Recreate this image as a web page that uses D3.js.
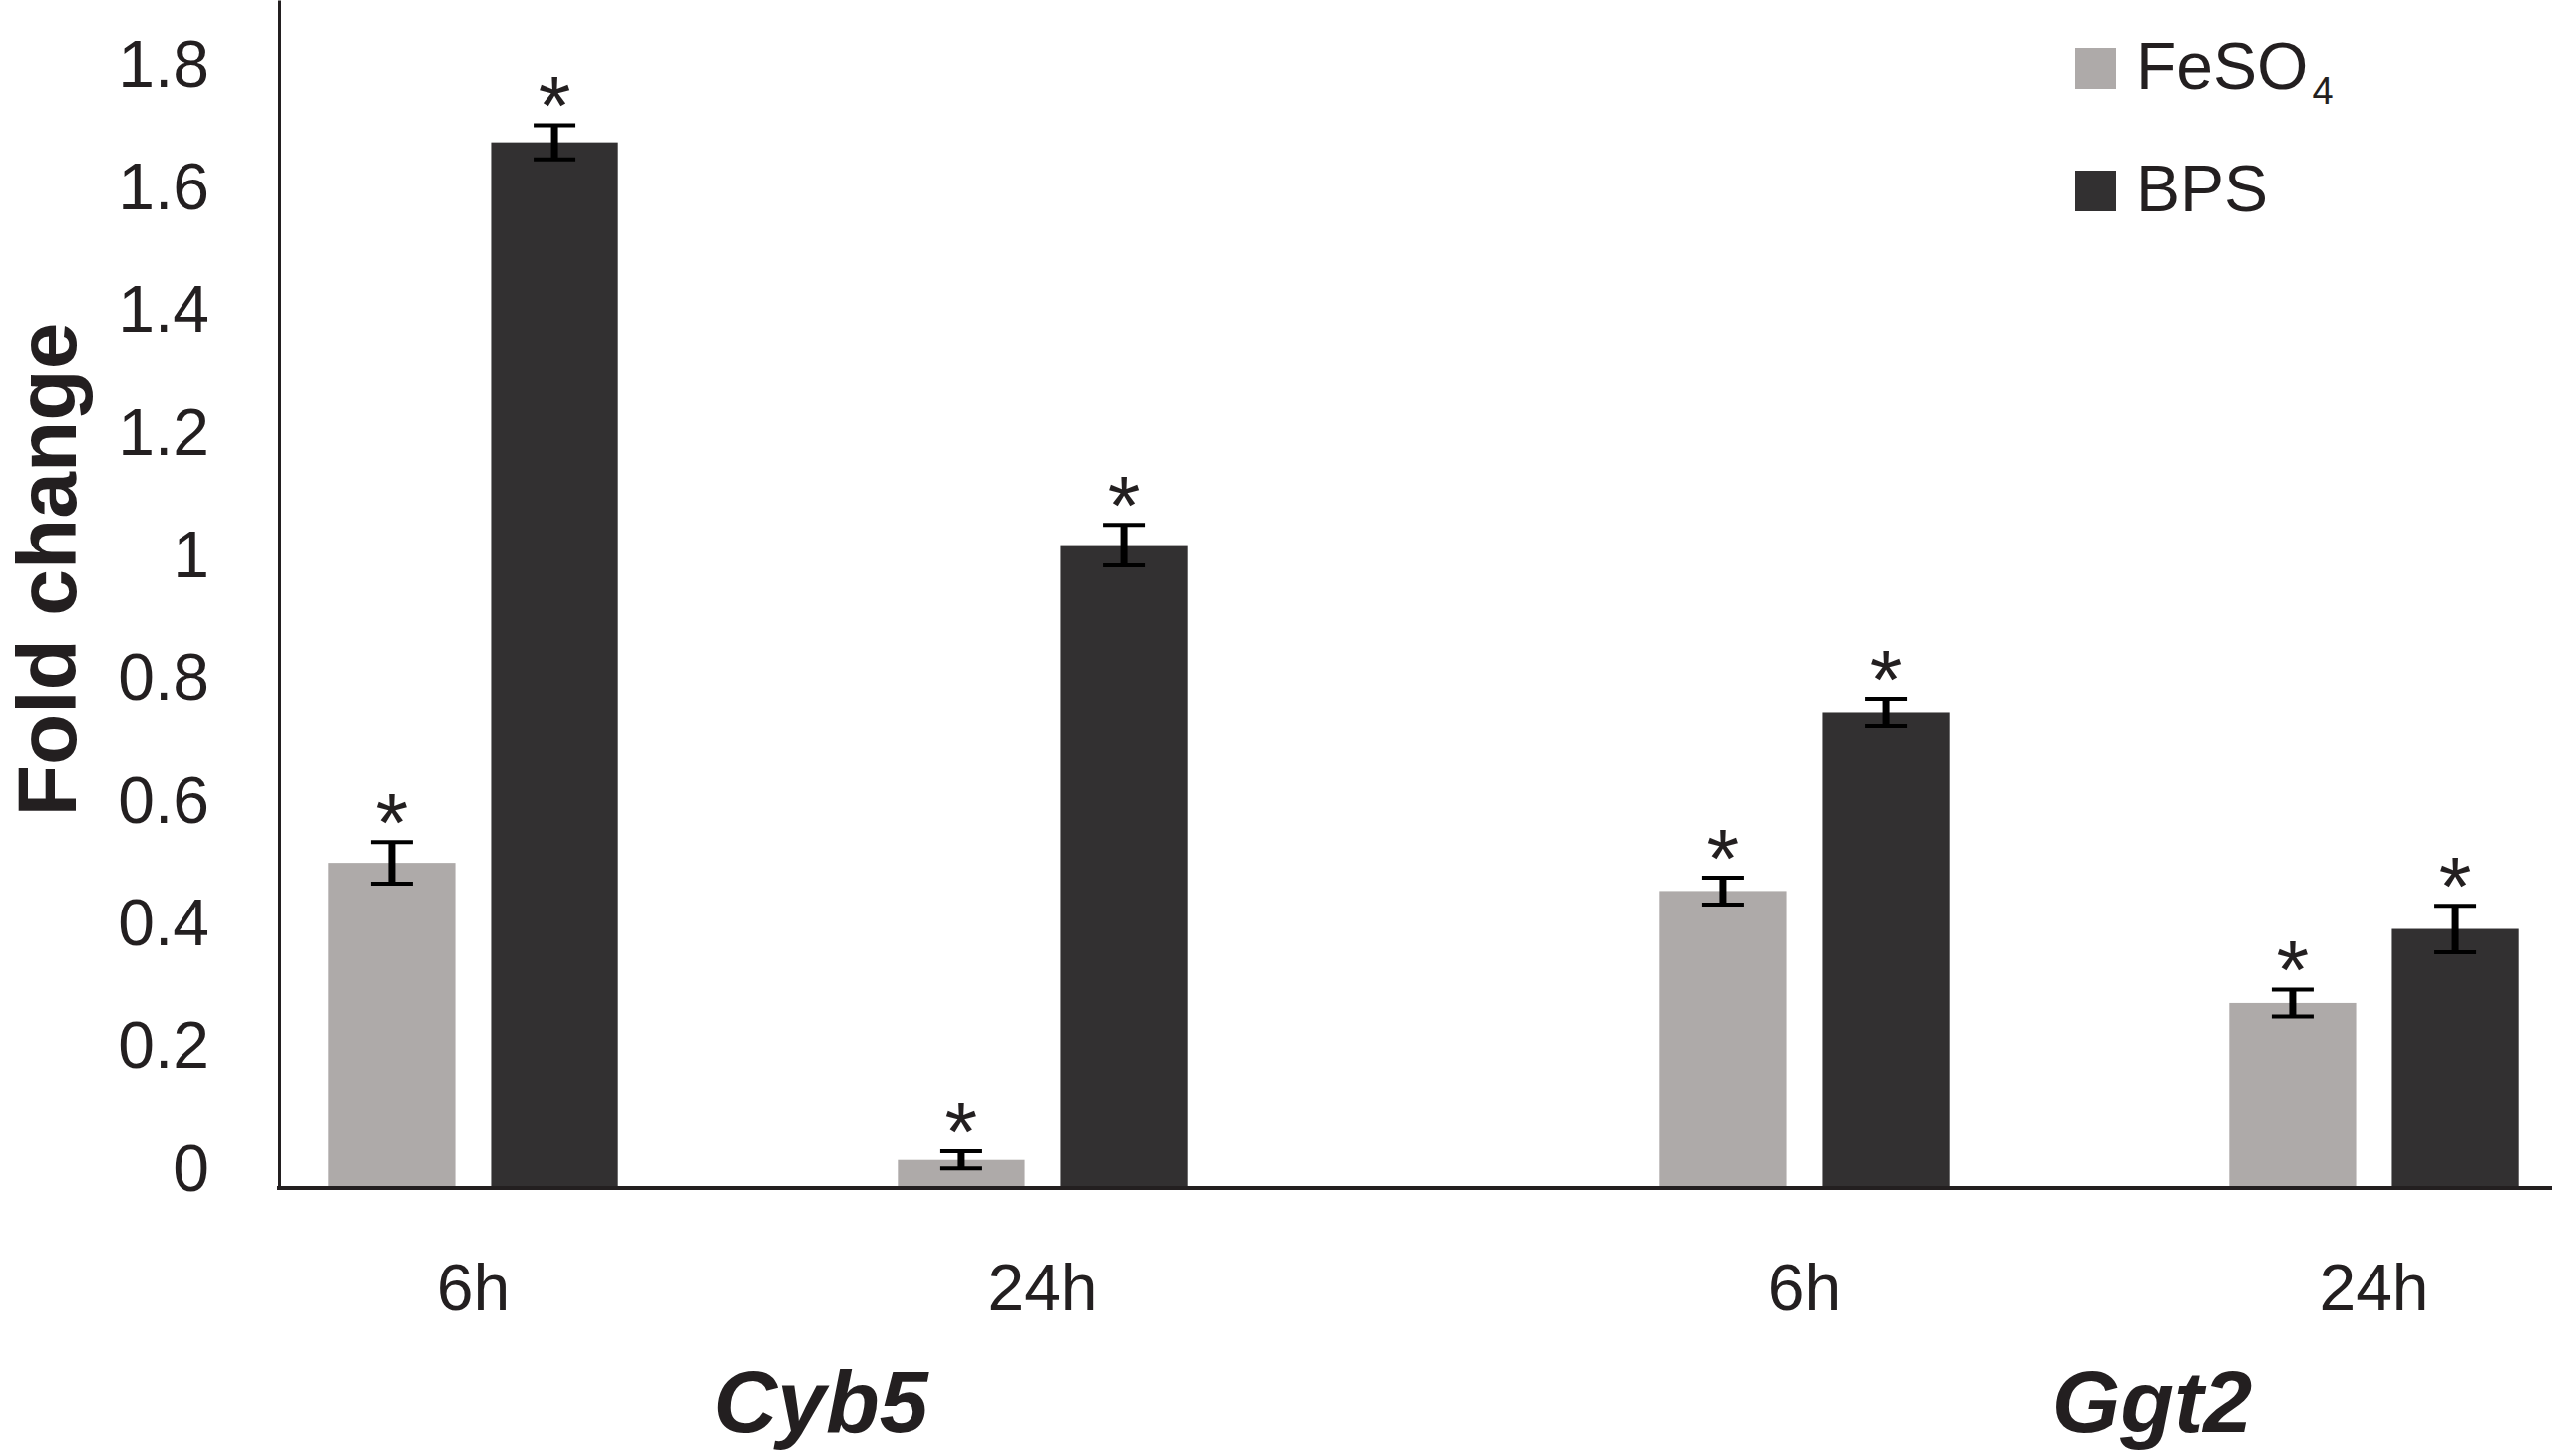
<!DOCTYPE html>
<html lang="en">
<head>
    <meta charset="UTF-8">
    <title>Fold change - Cyb5 / Ggt2</title>
    <script src="https://d3js.org/d3.v7.min.js"></script>
    <style>
        body { margin: 0; background: #fff; }
        svg { display: block; font-family: "Liberation Sans", Arial, sans-serif; }
    </style>
</head>
<body>

<div id="chart"></div>

<script>
// data (order: Cyb5 6h, Cyb5 24h, Ggt2 6h, Ggt2 24h)
const genes = ["Cyb5", "Ggt2"];
const times = ["6h", "24h"];
const seriesNames = ["FeSO4", "BPS"];
const feso4Values = [0.499, 0.015, 0.453, 0.270];
const feso4Errors = [0.034, 0.014, 0.022, 0.022];
const bpsValues = [1.674, 1.017, 0.744, 0.391];
const bpsErrors = [0.028, 0.033, 0.022, 0.038];
const yTicks = [0, 0.2, 0.4, 0.6, 0.8, 1, 1.2, 1.4, 1.6, 1.8];

const width = 2559;
const height = 1460;
const colors = { FeSO4: "#aeaaa9", BPS: "#323031" };
const ink = "#231f20";

// flatten into one row per bar
const rows = [];
genes.forEach((g, gi) => {
    times.forEach((t, ti) => {
        const i = gi * times.length + ti;
        rows.push({ gene: g, time: t, series: "FeSO4", value: feso4Values[i], err: feso4Errors[i] });
        rows.push({ gene: g, time: t, series: "BPS", value: bpsValues[i], err: bpsErrors[i] });
    });
});

const svg = d3.select("#chart")
    .append("svg")
    .attr("width", width)
    .attr("height", height);

// y: axis line sits a little below the zero label, as in the figure
const y = d3.scaleLinear()
    .domain([-0.031, 1.906])
    .range([1191, 0]);

const xGene = d3.scalePoint().domain(genes).range([760, 2095]);
const xTime = d3.scaleBand().domain(times).range([-571, 571]);
const xSeries = d3.scaleBand()
    .domain(seriesNames)
    .range([0, xTime.bandwidth()])
    .paddingInner(0.22)
    .paddingOuter(0.86);

const barX = d => xGene(d.gene) + xTime(d.time) + xSeries(d.series);
const barMid = d => barX(d) + xSeries.bandwidth() / 2;

// bars
svg.append("g")
    .selectAll("rect")
    .data(rows)
    .join("rect")
    .attr("x", barX)
    .attr("y", d => y(d.value))
    .attr("width", xSeries.bandwidth())
    .attr("height", d => y.range()[0] - y(d.value))
    .attr("fill", d => colors[d.series]);

// error bars
const capHalf = 21;
const err = svg.append("g").attr("stroke", "#000");
err.selectAll("line.stem")
    .data(rows)
    .join("line")
    .attr("class", "stem")
    .attr("x1", barMid).attr("x2", barMid)
    .attr("y1", d => y(d.value - d.err))
    .attr("y2", d => y(d.value + d.err))
    .attr("stroke-width", 7);
err.selectAll("line.capTop")
    .data(rows)
    .join("line")
    .attr("class", "capTop")
    .attr("x1", d => barMid(d) - capHalf).attr("x2", d => barMid(d) + capHalf)
    .attr("y1", d => y(d.value + d.err)).attr("y2", d => y(d.value + d.err))
    .attr("stroke-width", 4);
err.selectAll("line.capBot")
    .data(rows)
    .join("line")
    .attr("class", "capBot")
    .attr("x1", d => barMid(d) - capHalf).attr("x2", d => barMid(d) + capHalf)
    .attr("y1", d => y(d.value - d.err)).attr("y2", d => y(d.value - d.err))
    .attr("stroke-width", 4);

// significance stars
svg.append("g")
    .selectAll("text")
    .data(rows)
    .join("text")
    .attr("x", barMid)
    .attr("y", d => y(d.value + d.err) + 10)
    .attr("text-anchor", "middle")
    .attr("font-size", 84)
    .attr("fill", ink)
    .text("*");

// y axis
const yAxis = svg.append("g")
    .attr("transform", "translate(280,0)")
    .call(d3.axisLeft(y)
        .tickValues(yTicks)
        .tickFormat(d3.format("~g"))
        .tickSize(0)
        .tickSizeOuter(0)
        .tickPadding(70));
yAxis.select(".domain").attr("stroke", ink).attr("stroke-width", 3);
yAxis.selectAll("text")
    .attr("font-size", 66)
    .attr("font-family", "'Liberation Sans', Arial, sans-serif")
    .attr("fill", ink);

// x axis line
svg.append("line")
    .attr("x1", 278).attr("x2", width)
    .attr("y1", y.range()[0]).attr("y2", y.range()[0])
    .attr("stroke", ink)
    .attr("stroke-width", 4);

// time labels
const timeRows = genes.flatMap(g => times.map(t => ({ gene: g, time: t })));
svg.append("g")
    .selectAll("text")
    .data(timeRows)
    .join("text")
    .attr("x", d => xGene(d.gene) + xTime(d.time) + xTime.bandwidth() / 2)
    .attr("y", 1314)
    .attr("text-anchor", "middle")
    .attr("font-size", 66)
    .attr("fill", ink)
    .text(d => d.time);

// gene labels
svg.append("g")
    .selectAll("text")
    .data(genes)
    .join("text")
    .attr("x", d => xGene(d) + 63)
    .attr("y", 1436)
    .attr("text-anchor", "middle")
    .attr("font-size", 88)
    .attr("font-weight", "bold")
    .attr("font-style", "italic")
    .attr("fill", ink)
    .text(d => d);

// y title
svg.append("text")
    .attr("transform", "translate(76,571) rotate(-90)")
    .attr("text-anchor", "middle")
    .attr("font-size", 84)
    .attr("font-weight", "bold")
    .attr("fill", ink)
    .text("Fold change");

// legend
const legend = svg.append("g")
    .selectAll("g")
    .data(seriesNames)
    .join("g")
    .attr("transform", (d, i) => `translate(2081,${48 + i * 123})`);
legend.append("rect")
    .attr("width", 41)
    .attr("height", 41)
    .attr("fill", d => colors[d]);
const legendText = legend.append("text")
    .attr("x", 61)
    .attr("y", 41)
    .attr("font-size", 66)
    .attr("fill", ink);
legendText.filter(d => d === "FeSO4")
    .call(t => {
        t.append("tspan").text("FeSO");
        t.append("tspan").attr("font-size", 38).attr("dx", 4).attr("dy", 15).text("4");
    });
legendText.filter(d => d === "BPS").text("BPS");
</script>

</body>
</html>
